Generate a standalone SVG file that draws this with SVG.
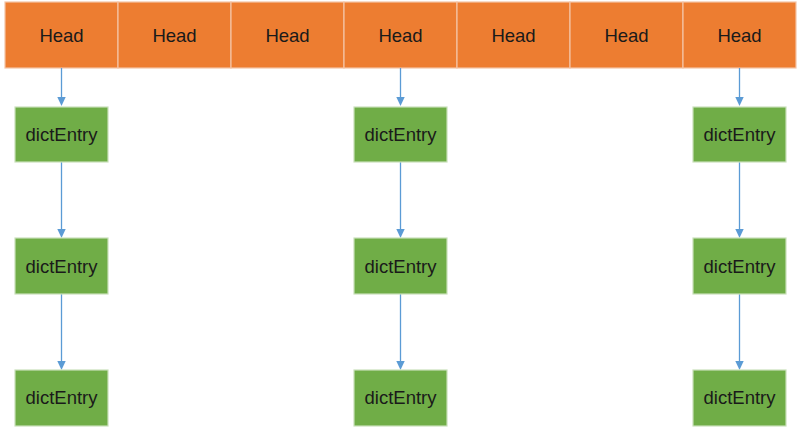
<svg xmlns="http://www.w3.org/2000/svg" width="802" height="434" viewBox="0 0 802 434">
<defs>
<style>
.head{fill:#ED7D31;stroke:#F3C3A5;stroke-width:1.2}
.entry{fill:#70AD47;stroke:#C9DFBA;stroke-width:1.2}
.t{font-family:"Liberation Sans",Arial,sans-serif;font-size:18.5px;fill:#1A1A1A;text-anchor:middle}
.c{stroke:#5B9BD5;stroke-width:1.3;fill:none}
.ah{fill:#5B9BD5}
</style>
</defs>
<rect width="802" height="434" fill="#FFFFFF"/>
<g id="heads">
<g id="head1"><rect class="head" x="5" y="2" width="113" height="66"/><text class="t" x="61.5" y="42">Head</text></g>
<g id="head2"><rect class="head" x="118" y="2" width="113" height="66"/><text class="t" x="174.5" y="42">Head</text></g>
<g id="head3"><rect class="head" x="231" y="2" width="113" height="66"/><text class="t" x="287.5" y="42">Head</text></g>
<g id="head4"><rect class="head" x="344" y="2" width="113" height="66"/><text class="t" x="400.5" y="42">Head</text></g>
<g id="head5"><rect class="head" x="457" y="2" width="113" height="66"/><text class="t" x="513.5" y="42">Head</text></g>
<g id="head6"><rect class="head" x="570" y="2" width="113" height="66"/><text class="t" x="626.5" y="42">Head</text></g>
<g id="head7"><rect class="head" x="683" y="2" width="113" height="66"/><text class="t" x="739.5" y="42">Head</text></g>
</g>
<g id="connectors">
<line class="c" x1="61.5" y1="68" x2="61.5" y2="99"/><polygon class="ah" points="57.3,97 65.7,97 61.5,106"/>
<line class="c" x1="61.5" y1="162" x2="61.5" y2="230"/><polygon class="ah" points="57.3,229 65.7,229 61.5,238"/>
<line class="c" x1="61.5" y1="294" x2="61.5" y2="362"/><polygon class="ah" points="57.3,361 65.7,361 61.5,370"/>
<line class="c" x1="400.5" y1="68" x2="400.5" y2="99"/><polygon class="ah" points="396.3,97 404.7,97 400.5,106"/>
<line class="c" x1="400.5" y1="162" x2="400.5" y2="230"/><polygon class="ah" points="396.3,229 404.7,229 400.5,238"/>
<line class="c" x1="400.5" y1="294" x2="400.5" y2="362"/><polygon class="ah" points="396.3,361 404.7,361 400.5,370"/>
<line class="c" x1="739.5" y1="68" x2="739.5" y2="99"/><polygon class="ah" points="735.3,97 743.7,97 739.5,106"/>
<line class="c" x1="739.5" y1="162" x2="739.5" y2="230"/><polygon class="ah" points="735.3,229 743.7,229 739.5,238"/>
<line class="c" x1="739.5" y1="294" x2="739.5" y2="362"/><polygon class="ah" points="735.3,361 743.7,361 739.5,370"/>
</g>
<g id="entry1a"><rect class="entry" x="15" y="107" width="93" height="55"/><text class="t" x="61.5" y="141">dictEntry</text></g>
<g id="entry1b"><rect class="entry" x="15" y="238" width="93" height="56"/><text class="t" x="61.5" y="273">dictEntry</text></g>
<g id="entry1c"><rect class="entry" x="15" y="370" width="93" height="56"/><text class="t" x="61.5" y="404">dictEntry</text></g>
<g id="entry2a"><rect class="entry" x="354" y="107" width="93" height="55"/><text class="t" x="400.5" y="141">dictEntry</text></g>
<g id="entry2b"><rect class="entry" x="354" y="238" width="93" height="56"/><text class="t" x="400.5" y="273">dictEntry</text></g>
<g id="entry2c"><rect class="entry" x="354" y="370" width="93" height="56"/><text class="t" x="400.5" y="404">dictEntry</text></g>
<g id="entry3a"><rect class="entry" x="693" y="107" width="93" height="55"/><text class="t" x="739.5" y="141">dictEntry</text></g>
<g id="entry3b"><rect class="entry" x="693" y="238" width="93" height="56"/><text class="t" x="739.5" y="273">dictEntry</text></g>
<g id="entry3c"><rect class="entry" x="693" y="370" width="93" height="56"/><text class="t" x="739.5" y="404">dictEntry</text></g>
</svg>
